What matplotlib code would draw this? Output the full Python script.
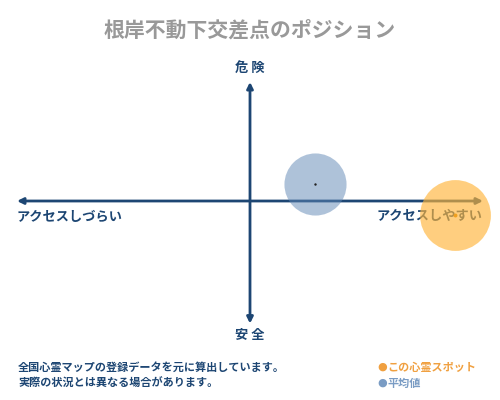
import matplotlib
matplotlib.use("Agg")
import matplotlib.pyplot as plt

plt.rcParams["font.family"] = ["Noto Sans CJK JP", "DejaVu Sans"]

title = "根岸不動下交差点のポジション"
y_labels = ["安 全", "危 険"]
x_labels = ["アクセスしづらい", "アクセスしやすい"]
notes = ["全国心霊マップの登録データを元に算出しています。",
         "実際の状況とは異なる場合があります。"]
legend_names = ["この心霊スポット", "平均値"]

# position on the access (x) / danger (y) plane, -1..1
spot_xy = [0.88, -0.12]
avg_xy = [0.28, 0.14]

navy = "#1d4673"
spot_color = "#ffb53a"
avg_color = "#5f87b5"

fig = plt.figure(figsize=(5, 4), dpi=100)
fig.patch.set_facecolor("white")

ax = fig.add_axes([0.034, 0.2, 0.932, 0.595])
ax.set_xlim(-1, 1)
ax.set_ylim(-1, 1)
ax.axis("off")

arrow = dict(arrowstyle="<|-|>", color=navy, lw=2, mutation_scale=9, shrinkA=0, shrinkB=0)
ax.annotate("", xy=(-1, 0), xytext=(1, 0), arrowprops=arrow, zorder=2,
            annotation_clip=False)
ax.annotate("", xy=(0, -1.03), xytext=(0, 1), arrowprops=arrow, zorder=2,
            annotation_clip=False)

# circles
ax.scatter([avg_xy[0]], [avg_xy[1]], s=2000, color=avg_color, alpha=0.5, lw=0, zorder=3)
ax.scatter([spot_xy[0]], [spot_xy[1]], s=2600, color=spot_color, alpha=0.65, lw=0,
           zorder=4, clip_on=False)
ax.scatter([avg_xy[0]], [avg_xy[1]], s=3, color="#222222", lw=0, zorder=5)
ax.scatter([spot_xy[0]], [spot_xy[1]], s=8, color="#f0a020", lw=0, zorder=5)

lab = dict(color=navy, fontsize=9.5, fontweight="bold", zorder=1)
ax.text(-1, -0.13, x_labels[0], ha="left", va="center", **lab)
ax.text(1, -0.13, x_labels[1], ha="right", va="center", **lab)
fig.text(0.5, 1 - 68 / 400, y_labels[1], ha="center", va="center", **lab)
fig.text(0.5, 1 - 335 / 400, y_labels[0], ha="center", va="center", **lab)

fig.text(0.5, 1 - 30 / 400, title, ha="center", va="center",
         color="#999999", fontsize=15, fontweight="bold")

for i, line in enumerate(notes):
    fig.text(18 / 500, 1 - (367 + 16 * i) / 400, line, ha="left", va="center",
             color=navy, fontsize=8, fontweight="bold")

leg_colors = ["#f0a040", "#7a9cc4"]
for i, (name, c) in enumerate(zip(legend_names, leg_colors)):
    y = 1 - (367 + 16 * i) / 400
    fig.text(377 / 500, y, "●", ha="left", va="center", color=c, fontsize=8,
             family=["DejaVu Sans"])
    fig.text(387 / 500, y, name, ha="left", va="center", color=c,
             fontsize=8, fontweight="bold")

fig.savefig("out.png", dpi=100)
